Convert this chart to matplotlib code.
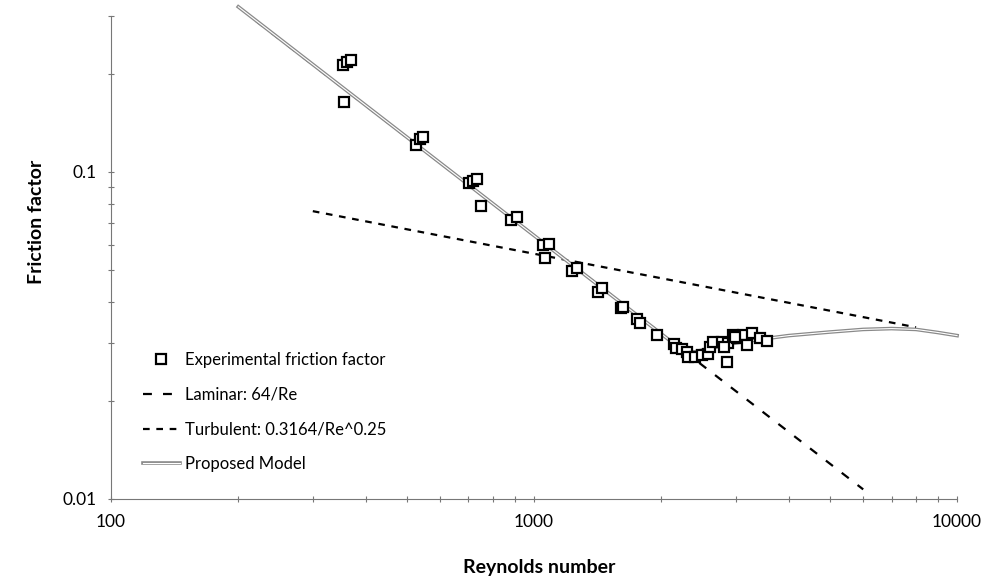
# -*- coding: utf-8 -*-
# Friction factor vs Reynolds number (log-log)
import numpy as np
import matplotlib
matplotlib.use("Agg")
import matplotlib.pyplot as plt
import matplotlib.patheffects as pe

plt.rcParams["font.family"] = ["Lato", "DejaVu Sans"]

# Experimental points
re_exp = [354, 361, 369, 355, 526, 538, 547, 702, 717, 733, 750, 883, 912,
          1050, 1085, 1062, 1230, 1264, 1416, 1448, 1606, 1622, 1751, 1781,
          1954, 2143, 2167, 2238, 2299, 2312, 2402, 2496, 2578, 2606, 2650,
          2780, 2859, 2875, 2953, 3020, 3119, 3189, 3275, 3422, 3556, 2987, 2813]
f_exp = [0.212, 0.217, 0.220, 0.164, 0.121, 0.126, 0.128, 0.0926, 0.0939,
         0.0952, 0.0787, 0.0713, 0.0728, 0.0598, 0.0602, 0.0546, 0.0498,
         0.0509, 0.0430, 0.0442, 0.0384, 0.0386, 0.0355, 0.0345, 0.0318,
         0.0298, 0.0290, 0.0288, 0.0282, 0.0272, 0.0272, 0.0276, 0.0278,
         0.0292, 0.0302, 0.0302, 0.0262, 0.0300, 0.0318, 0.0311, 0.0318,
         0.0296, 0.0322, 0.0311, 0.0304, 0.0313, 0.0292]

# Laminar and turbulent reference lines (end points)
re_lam = [220, 6000]
f_lam = [0.29, 0.0107]
re_turb = [300, 8000]
f_turb = [0.0759, 0.0335]

# Proposed model
re_mod = [200, 2300, 2600, 3000, 3500, 4000, 5000, 6000, 7000, 8000, 9000, 10000]
f_mod = [0.32, 0.0278, 0.0289, 0.0300, 0.0309, 0.0316, 0.0324, 0.0330,
         0.0332, 0.0330, 0.0323, 0.0316]

fig = plt.figure(figsize=(9.89, 5.79), dpi=100)
ax = fig.add_axes([0.1122, 0.1382, 0.8555, 0.8342])

ax.plot(re_exp, f_exp, linestyle="none", marker="s", markersize=7,
        markerfacecolor="white", markeredgecolor="black", markeredgewidth=1.6,
        label="Experimental friction factor", zorder=4)
ax.plot(re_lam, f_lam, color="black", linewidth=1.6, dashes=(4, 5),
        label="Laminar: 64/Re", zorder=2)
ax.plot(re_turb, f_turb, color="black", linewidth=1.6, dashes=(3, 3),
        label="Turbulent: 0.3164/Re^0.25", zorder=2)
ax.plot(re_mod, f_mod, color="white", linewidth=0.8, clip_on=False,
        path_effects=[pe.Stroke(linewidth=2.6, foreground="#8a8a8a"), pe.Normal()],
        label="Proposed Model", zorder=3)

ax.set_xscale("log")
ax.set_yscale("log")
ax.set_xlim(100, 10000)
ax.set_ylim(0.01, 0.3)

ax.set_xticks([100, 1000, 10000])
ax.set_xticklabels(["100", "1000", "10000"])
ax.set_yticks([0.01, 0.1])
ax.set_yticklabels(["0.01", "0.1"])
ax.tick_params(which="major", direction="inout", length=5, width=0.8,
               color="#777777", labelsize=12.5, pad=8)
ax.tick_params(which="minor", direction="inout", length=4, width=0.8,
               color="#777777", labelleft=False, labelbottom=False)

for s in ["top", "right"]:
    ax.spines[s].set_visible(False)
for s in ["left", "bottom"]:
    ax.spines[s].set_color("#777777")
    ax.spines[s].set_linewidth(0.8)

fig.text(0.545, 0.02, "Reynolds number", ha="center", va="center",
         fontsize=14, fontweight="bold")
fig.text(0.037, 0.617, "Friction factor", ha="center", va="center",
         rotation=90, fontsize=14, fontweight="bold")

ax.legend(loc="upper left", bbox_to_anchor=(0.03, 0.318), frameon=False,
          fontsize=12, handlelength=2.2, handletextpad=0.3, labelspacing=1.12,
          borderaxespad=0)

fig.savefig("out.png", dpi=100)
